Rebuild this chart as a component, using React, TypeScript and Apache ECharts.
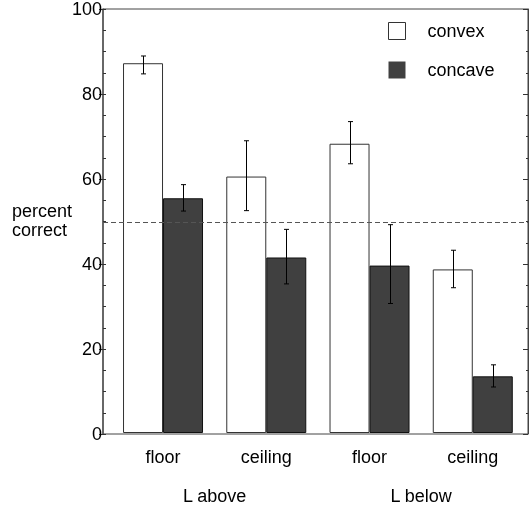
import React, { useEffect, useRef } from "react";
import * as echarts from "echarts";

const categories = ["floor", "ceiling", "floor", "ceiling"];
const groups = ["L above", "L below"];
const seriesNames = ["convex", "concave"];
const convex = [86.8, 60.2, 67.9, 38.4];
const convexErrLow = [84.3, 52.2, 63.2, 34.1];
const convexErrHigh = [88.5, 68.6, 73.1, 42.9];
const concave = [55.1, 41.2, 39.3, 13.3];
const concaveErrLow = [52.1, 35.0, 30.4, 10.8];
const concaveErrHigh = [58.3, 47.8, 48.9, 16.0];
const chanceLevel = [50];
const yMin = 0;
const yMax = 100;
const yInterval = 20;

const FONT = "'Liberation Sans', Arial, Helvetica, sans-serif";
const BAR_W = 40;

export default function App() {
  const ref = useRef<HTMLDivElement>(null);
  useEffect(() => {
    if (!ref.current) return;
    const chart = echarts.init(ref.current, null, { renderer: "svg" });

    const errSeries = (low: number[], high: number[], side: number, name: string) => ({
      type: "custom",
      name: name + "-err",
      xAxisIndex: 1,
      yAxisIndex: 3,
      z: 10,
      data: categories.map((_, i) => [i, low[i], high[i]]),
      encode: { x: 0, y: [1, 2] },
      renderItem: (params: any, api: any) => {
        const lo = api.coord([api.value(0), api.value(1)]);
        const hi = api.coord([api.value(0), api.value(2)]);
        const x = Math.round(lo[0] + side * (BAR_W / 2)) + 0.5;
        const cap = 2.5;
        const st = { stroke: "#000", lineWidth: 1 };
        return {
          type: "group",
          children: [
            { type: "line", shape: { x1: x, y1: lo[1], x2: x, y2: hi[1] }, style: st },
            { type: "line", shape: { x1: x - cap, y1: lo[1], x2: x + cap, y2: lo[1] }, style: st },
            { type: "line", shape: { x1: x - cap, y1: hi[1], x2: x + cap, y2: hi[1] }, style: st },
          ],
        };
      },
    });

    const option: any = {
      animation: false,
      textStyle: { fontFamily: FONT },
      grid: [
        { left: 103, right: 1, top: 7, bottom: 71, show: true, borderColor: "#444", borderWidth: 1, backgroundColor: "transparent" },
        { left: 111.4, right: 4.6, top: 7, bottom: 71 },
      ],
      legend: {
        orient: "vertical",
        left: 388,
        top: 22,
        padding: 0,
        itemWidth: 17,
        itemHeight: 17,
        itemGap: 21,
        icon: "rect",
        textStyle: { fontSize: 18, color: "#000", fontFamily: FONT, padding: [0, 0, 0, 17] },
        data: [
          { name: seriesNames[0], itemStyle: { color: "#fff", borderColor: "#333", borderWidth: 1 } },
          { name: seriesNames[1], itemStyle: { color: "#404040", borderColor: "#404040", borderWidth: 0 } },
        ],
      },
      xAxis: [
        { type: "value", gridIndex: 0, min: 0, max: 1, show: false },
        {
          type: "category",
          gridIndex: 1,
          data: categories,
          axisLine: { show: false },
          axisTick: { show: false },
          axisLabel: { fontSize: 18, color: "#000", margin: 15, fontFamily: FONT },
        },
        {
          type: "category",
          gridIndex: 1,
          position: "bottom",
          offset: 39,
          data: groups,
          axisLine: { show: false },
          axisTick: { show: false },
          axisLabel: { fontSize: 18, color: "#000", margin: 15, fontFamily: FONT },
        },
      ],
      yAxis: [
        {
          type: "value",
          gridIndex: 0,
          position: "left",
          min: yMin,
          max: yMax,
          interval: yInterval,
          axisLine: { show: true, lineStyle: { color: "#555", width: 1.5 } },
          axisTick: { show: true, length: 4, lineStyle: { color: "#333" } },
          axisLabel: { fontSize: 18, color: "#000", margin: 1, fontFamily: FONT, padding: [8, 0, 0, 0] },
          splitLine: { show: false },
        },
        {
          type: "value",
          gridIndex: 0,
          position: "left",
          min: yMin,
          max: yMax,
          interval: yInterval,
          axisLine: { show: false },
          axisTick: { show: true, inside: true, length: 3, lineStyle: { color: "#333" } },
          minorTick: { show: true, splitNumber: 4, length: 3, lineStyle: { color: "#333" } },
          axisLabel: { show: false },
          splitLine: { show: false },
        },
        {
          type: "value",
          gridIndex: 0,
          position: "right",
          min: yMin,
          max: yMax,
          interval: yInterval,
          axisLine: { show: true, lineStyle: { color: "#444" } },
          axisTick: { show: true, inside: true, length: 5, lineStyle: { color: "#333" } },
          minorTick: { show: true, splitNumber: 4, length: 2, lineStyle: { color: "#333" } },
          axisLabel: { show: false },
          splitLine: { show: false },
        },
        { type: "value", gridIndex: 1, min: yMin, max: yMax, interval: yInterval, show: false },
      ],
      series: [
        {
          type: "custom",
          name: "chance",
          xAxisIndex: 0,
          yAxisIndex: 0,
          z: 5,
          data: chanceLevel.map((v) => [0, v]),
          renderItem: (params: any, api: any) => {
            const cs = params.coordSys;
            const p = api.coord([0, api.value(1)]);
            const y = Math.round(p[1]) + 0.5;
            return {
              type: "line",
              shape: { x1: cs.x, y1: y, x2: cs.x + cs.width, y2: y },
              style: { stroke: "#555", lineWidth: 1, lineDash: [5, 3] },
            };
          },
        },
        {
          type: "bar",
          name: seriesNames[0],
          xAxisIndex: 1,
          yAxisIndex: 3,
          data: convex,
          barWidth: BAR_W,
          barGap: "0%",
          z: 2,
          itemStyle: { color: "#fff", borderColor: "#333", borderWidth: 1 },
        },
        {
          type: "bar",
          name: seriesNames[1],
          xAxisIndex: 1,
          yAxisIndex: 3,
          data: concave,
          barWidth: BAR_W,
          barGap: "0%",
          z: 2,
          itemStyle: { color: "#404040", borderColor: "#111", borderWidth: 1 },
        },
        errSeries(convexErrLow, convexErrHigh, -1, seriesNames[0]),
        errSeries(concaveErrLow, concaveErrHigh, 1, seriesNames[1]),
      ],
      graphic: [
        {
          type: "text",
          left: 12,
          top: 202,
          style: { text: "percent\ncorrect", fontSize: 18, lineHeight: 18.5, fill: "#000", fontFamily: FONT },
        },
      ],
    };
    chart.setOption(option);
    return () => chart.dispose();
  }, []);
  return <div ref={ref} style={{ position: "fixed", left: 0, top: 0, width: 529, height: 505 }} />;
}
